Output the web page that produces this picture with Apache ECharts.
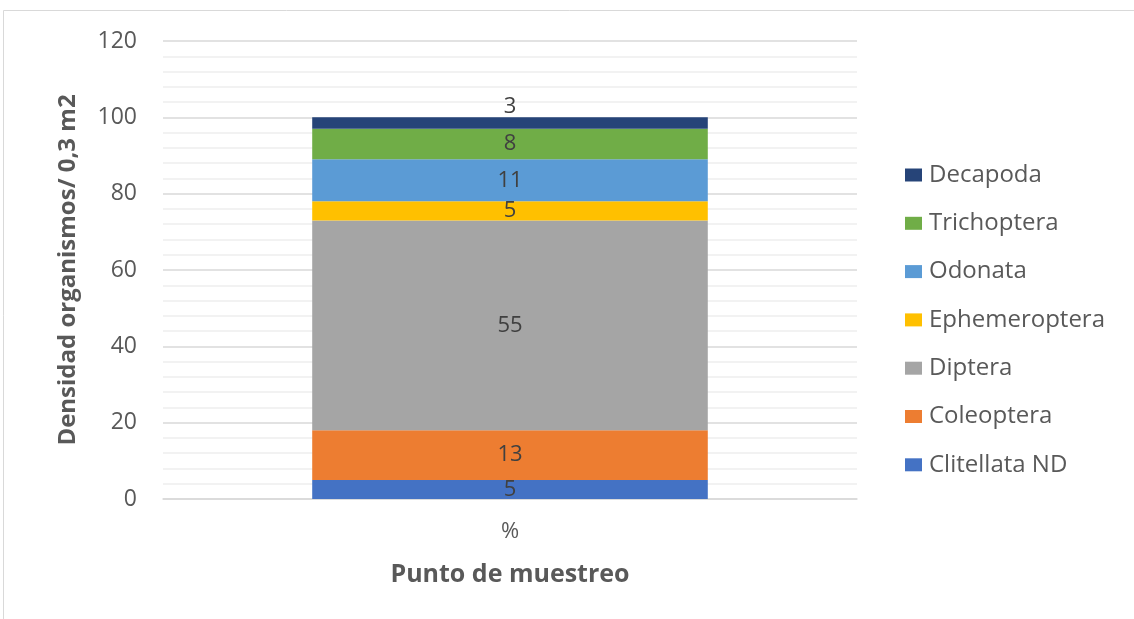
<!DOCTYPE html>
<html>
<head>
<meta charset="utf-8">
<script src="https://cdn.jsdelivr.net/npm/echarts@6/dist/echarts.min.js"></script>
<style>
html,body{margin:0;padding:0;background:#fff;}
#chart{width:1134px;height:619px;}
</style>
</head>
<body>
<div id="chart"></div>
<script>
const categories = ['%'];
const seriesNames = ['Clitellata ND','Coleoptera','Diptera','Ephemeroptera','Odonata','Trichoptera','Decapoda'];
const clitellata = [5];
const coleoptera = [13];
const diptera = [55];
const ephemeroptera = [5];
const odonata = [11];
const trichoptera = [8];
const decapoda = [3];
const seriesValues = [clitellata, coleoptera, diptera, ephemeroptera, odonata, trichoptera, decapoda];
const colors = ['#4472C4','#ED7D31','#A5A5A5','#FFC000','#5B9BD5','#70AD47','#264478'];
const legendOrder = ['Decapoda','Trichoptera','Odonata','Ephemeroptera','Diptera','Coleoptera','Clitellata ND'];

const FONT = '"Open Sans", sans-serif';
const chart = echarts.init(document.getElementById('chart'));
const series = seriesNames.map((name, i) => ({
  name: name,
  type: 'bar',
  stack: 'total',
  barWidth: '57%',
  data: seriesValues[i],
  itemStyle: { color: colors[i] },
  label: {
    show: true,
    position: i === seriesNames.length - 1 ? 'top' : 'inside',
    distance: 0,
    color: '#404040',
    fontFamily: FONT,
    fontSize: 22
  }
}));

chart.setOption({
  animation: false,
  backgroundColor: '#fff',
  color: colors,
  graphic: [{
    type: 'rect',
    shape: { x: 3.5, y: 10.5, width: 1140, height: 620 },
    style: { fill: 'none', stroke: '#d9d9d9', lineWidth: 1 },
    silent: true
  }],
  grid: { left: 163, right: 277, top: 41, bottom: 120 },
  legend: {
    orient: 'vertical',
    left: 905,
    top: 163,
    padding: 0,
    itemWidth: 17,
    itemHeight: 13,
    itemGap: 24.3,
    icon: 'rect',
    data: legendOrder,
    textStyle: { fontFamily: FONT, fontSize: 24, color: '#595959', padding: [0, 0, 0, 2] }
  },
  xAxis: {
    type: 'category',
    data: categories,
    name: 'Punto de muestreo',
    nameLocation: 'middle',
    nameGap: 63,
    nameTextStyle: { fontFamily: FONT, fontSize: 25, fontWeight: 'bold', color: '#595959' },
    axisLine: { lineStyle: { color: '#d9d9d9', width: 1.5 } },
    axisTick: { show: false },
    axisLabel: { fontFamily: FONT, fontSize: 22, color: '#595959', margin: 22 }
  },
  yAxis: {
    type: 'value',
    min: 0,
    max: 120,
    interval: 20,
    name: 'Densidad organismos/ 0,3 m2',
    nameLocation: 'middle',
    nameGap: 83,
    nameTextStyle: { fontFamily: FONT, fontSize: 24, fontWeight: 'bold', color: '#595959' },
    axisLine: { show: false },
    axisTick: { show: false },
    axisLabel: { fontFamily: FONT, fontSize: 23, color: '#595959', margin: 26 },
    splitLine: { lineStyle: { color: '#d9d9d9', width: 1.5 } },
    minorTick: { show: false, splitNumber: 5 },
    minorSplitLine: { show: true, lineStyle: { color: '#eeeeee', width: 1.5 } }
  },
  series: series
});
</script>
</body>
</html>
